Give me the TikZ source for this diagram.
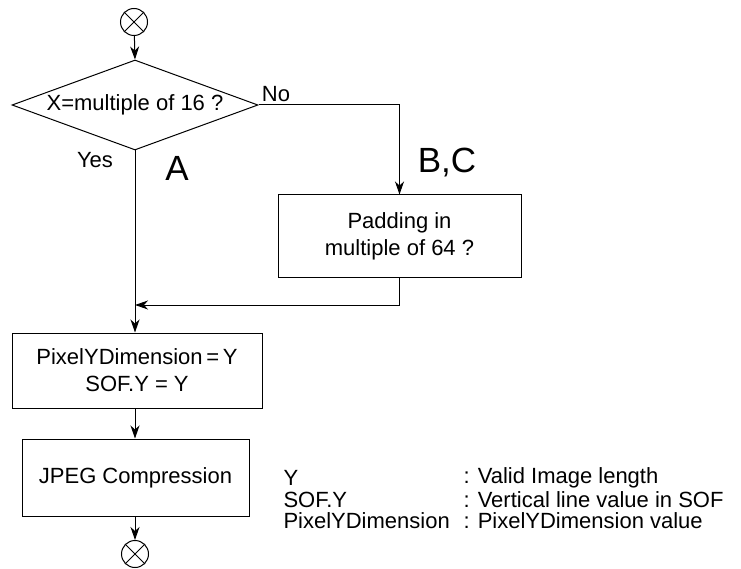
\documentclass[tikz,border=0pt]{standalone}
\usepackage{fontspec}
\setmainfont{Liberation Sans}
\usepackage{tikz}
\usepackage{xcolor}
\usetikzlibrary{shapes.geometric, arrows.meta, positioning, calc}
\tikzset{flowarrow/.style={line width=1pt, -{Stealth[length=13pt, width=9pt, inset=4pt]}}}

\begin{document}
\begin{tikzpicture}[line width=1pt, font=\fontsize{22}{27}\selectfont]
\tikzstyle{process} = [rectangle, text centered, align=center, draw=black, inner sep=0pt]
\tikzstyle{decision} = [diamond, draw=black, inner sep=0pt, aspect=2.733, minimum width=246pt, minimum height=90pt]
\tikzstyle{terminal} = [circle, draw=black, minimum size=27pt, inner sep=0pt]
\tikzstyle{biglabel} = [font=\fontsize{35}{40}\selectfont]
\tikzstyle{legend} = [anchor=west, inner sep=0pt]

\begin{scope}[x=1pt, y=-1pt]
\useasboundingbox (0,0) rectangle (741,569);

\node (start) [terminal] at (134,22) {};
\draw (start.north west) -- (start.south east) (start.north east) -- (start.south west);
\node (check) [decision] at (135,105) {X=multiple of 16 ?};
\node (padding) [process, minimum width=243pt, minimum height=82pt] at (399.5,236) {Padding in\\multiple of 64 ?};
\node (setdim) [process, minimum width=250pt, minimum height=75pt] at (137,370.5) {PixelYDimension\,=\,Y\\SOF.Y = Y};
\node (jpeg) [process, minimum width=227pt, minimum height=77pt] at (135.5,477.5) {JPEG Compression};
\node (finish) [terminal] at (135,554) {};
\draw (finish.north west) -- (finish.south east) (finish.north east) -- (finish.south west);
\coordinate (merge) at (135,305);

\node (no) at (276,94) {No};
\node (yes) at (95,160) {Yes};
\node (pathA) [biglabel] at (177,168) {A};
\node (pathBC) [biglabel] at (447,163) {B,C};

\node (legY) [legend] at (283,478) {Y};
\node (legSOF) [legend] at (283,500) {SOF.Y};
\node (legPix) [legend] at (283,521) {PixelYDimension};
\node (descY) [legend] at (463,478) {: Valid Image length};
\node (descSOF) [legend] at (463,500) {: Vertical line value in SOF};
\node (descPix) [legend] at (463,521) {: PixelYDimension value};
\end{scope}

\draw [flowarrow] (start) -- (check.north);
\draw [flowarrow] (check.east) -| (padding.north);
\draw [flowarrow] (check.south) -- (check.south |- setdim.north);
\draw [flowarrow] (padding.south) |- (merge);
\draw [flowarrow] (check.south |- setdim.south) -- (check.south |- jpeg.north);
\draw [flowarrow] (check.south |- jpeg.south) -- (finish);

\end{tikzpicture}
\end{document}
